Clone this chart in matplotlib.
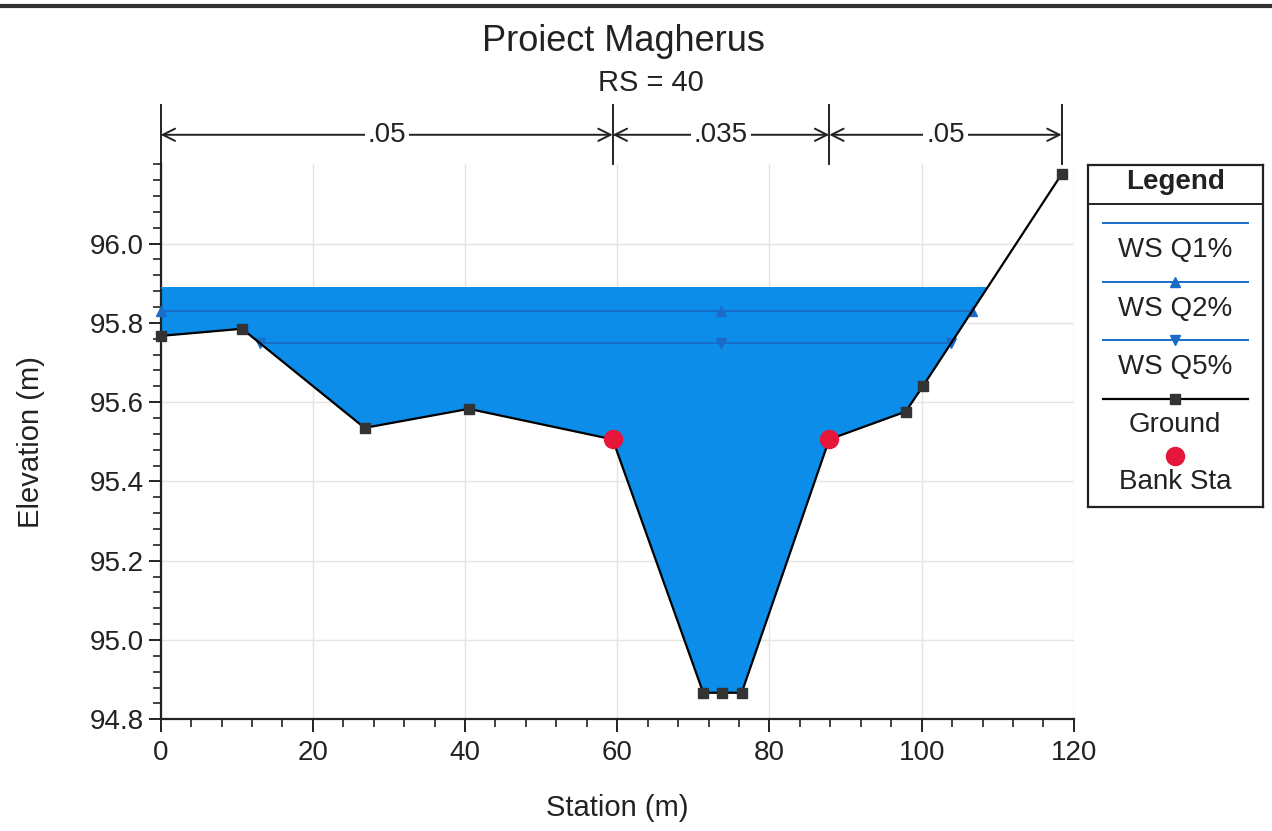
import numpy as np
import matplotlib
matplotlib.use("Agg")
import matplotlib.pyplot as plt
from matplotlib.lines import Line2D
from matplotlib.ticker import MultipleLocator, FixedLocator, FormatStrFormatter

plt.rcParams['font.family'] = ['Liberation Sans', 'DejaVu Sans']

# ---------------------------------------------------------
#  Datos de la sección transversal (RS = 40)
# ---------------------------------------------------------
station = [0, 10.7, 26.8, 40.5, 59.4, 71.3, 73.8, 76.35, 87.86, 97.9, 100.2, 118.4]
ground = [95.767, 95.785, 95.535, 95.583, 95.506, 94.867, 94.867, 94.867,
          95.506, 95.576, 95.641, 96.175]
bank_sta = [59.4, 87.86]

ws_names = ["WS Q1%", "WS Q2%", "WS Q5%"]
ws_levels = [95.888, 95.830, 95.748]

n_breaks = [0, 59.4, 87.86, 118.4]
n_values = [".05", ".035", ".05"]

y_labels = [94.8, 95.0, 95.2, 95.4, 95.6, 95.8, 96.0]

title = "Proiect Magherus"
subtitle = "RS = 40"

# colores
FILL = "#0b8de9"
WS_LINE = "#1a6cc8"
BANK = "#e5163a"
GROUND_MK = "#333333"
INK = "#222222"


def wet_extent(level):
    x = np.linspace(station[0], station[-1], 20001)
    g = np.interp(x, station, ground)
    xs = x[g <= level]
    return xs.min(), xs.max()


fig = plt.figure(figsize=(12.72, 8.31), dpi=100)
ax = fig.add_axes([0.1263, 0.1344, 0.7179, 0.668])

# agua (WS Q1%)
st_arr = np.array(station)
gr_arr = np.array(ground)
ax.fill_between(st_arr, gr_arr, ws_levels[0], where=gr_arr <= ws_levels[0],
                interpolate=True, color=FILL, lw=0, zorder=2)

# líneas de nivel
markers = [None, "^", "v"]
ch_center = np.mean(bank_sta)
for lvl, mk in zip(ws_levels, markers):
    x0, x1 = wet_extent(lvl)
    ax.plot([x0, x1], [lvl, lvl], color=WS_LINE if mk else FILL, lw=1.4, zorder=3)
    if mk:
        ax.plot([x0, ch_center, x1], [lvl] * 3, ls="none", marker=mk,
                ms=7, color=WS_LINE, zorder=4, clip_on=False)

# terreno
ax.plot(station, ground, color="black", lw=1.6, marker="s", ms=7.5,
        mfc=GROUND_MK, mec=GROUND_MK, zorder=5, clip_on=False)
bank_elev = np.interp(bank_sta, station, ground)
ax.plot(bank_sta, bank_elev, ls="none", marker="o", ms=13, color=BANK, zorder=6)

# ejes
ax.set_xlim(0, 120)
ax.set_ylim(94.8, 96.2)
ax.xaxis.set_major_locator(MultipleLocator(20))
ax.xaxis.set_minor_locator(MultipleLocator(4))
ax.yaxis.set_major_locator(FixedLocator(y_labels))
ax.yaxis.set_minor_locator(MultipleLocator(0.04))
ax.yaxis.set_major_formatter(FormatStrFormatter("%.1f"))
ax.tick_params(which="major", length=9, width=1.4, labelsize=20, color=INK,
               labelcolor=INK)
ax.tick_params(which="minor", length=6, width=1.2, color=INK)
ax.tick_params(axis="x", pad=6)
ax.tick_params(axis="y", pad=3)
for s in ["top", "right"]:
    ax.spines[s].set_visible(False)
for s in ["left", "bottom"]:
    ax.spines[s].set_linewidth(1.6)
    ax.spines[s].set_color(INK)
ax.grid(True, which="major", color="#e4e4e4", lw=1.0, zorder=0)
ax.set_axisbelow(True)

fig.text(0.024, 0.468, "Elevation (m)", rotation=90, ha="center", va="center",
         fontsize=21, color=INK)
fig.text(0.485, 0.028, "Station (m)", ha="center", va="center", fontsize=21, color=INK)

fig.text(0.490, 0.950, title, ha="center", va="center", fontsize=26, color=INK)
fig.text(0.512, 0.900, subtitle, ha="center", va="center", fontsize=21, color=INK)

# coeficientes de Manning sobre el gráfico
tr = ax.get_xaxis_transform()
for xb in n_breaks:
    ax.plot([xb, xb], [1.0, 1.106], transform=tr, color=INK, lw=1.4, clip_on=False)
for i, nv in enumerate(n_values):
    a, b = n_breaks[i], n_breaks[i + 1]
    ax.annotate("", xy=(b, 1.053), xytext=(a, 1.053), xycoords=tr, textcoords=tr,
                arrowprops=dict(arrowstyle="<->", color=INK, lw=1.4,
                                shrinkA=0, shrinkB=0, mutation_scale=22))
    ax.text((a + b) / 2, 1.053, nv, transform=tr, ha="center", va="center", fontsize=20,
            color=INK, bbox=dict(fc="white", ec="none", pad=2))

# leyenda (caja propia)
lg = fig.add_axes([0.8553, 0.3903, 0.1373, 0.4111])
lg.set_xlim(0, 1)
lg.set_ylim(0, 1)
lg.set_xticks([])
lg.set_yticks([])
for s in lg.spines.values():
    s.set_linewidth(1.6)
    s.set_color(INK)
lg.text(0.5, 0.951, "Legend", ha="center", va="center", fontsize=20, fontweight="bold",
        color=INK)
lg.axhline(0.886, color=INK, lw=1.4)
ys_line = [0.831, 0.659, 0.488]
for yl, name, mk in zip(ys_line, ws_names, markers):
    lg.plot([0.084, 0.916], [yl, yl], color=WS_LINE, lw=1.4)
    if mk:
        lg.plot([0.5], [yl], marker=mk, ms=7, color=WS_LINE)
    lg.text(0.5, yl - 0.08, name, ha="center", va="center", fontsize=20, color=INK)
lg.plot([0.084, 0.916], [0.314, 0.314], color="black", lw=1.6)
lg.plot([0.5], [0.314], marker="s", ms=7.5, color=GROUND_MK)
lg.text(0.5, 0.239, "Ground", ha="center", va="center", fontsize=20, color=INK)
lg.plot([0.5], [0.148], marker="o", ms=13, color=BANK)
lg.text(0.5, 0.072, "Bank Sta", ha="center", va="center", fontsize=20, color=INK)

# borde superior del escaneo
fig.add_artist(Line2D([0, 1], [0.993, 0.993], transform=fig.transFigure,
                      color="#333333", lw=3))

fig.savefig("out.png", dpi=100)
